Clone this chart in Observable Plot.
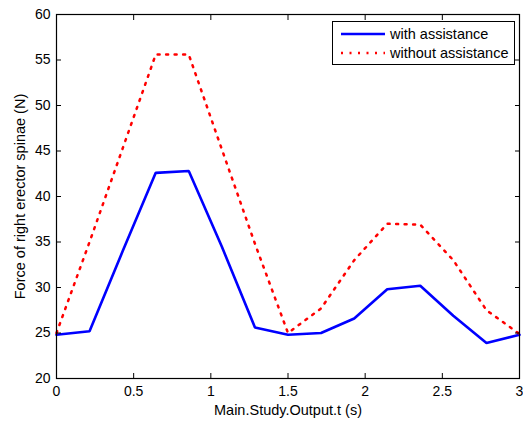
<!DOCTYPE html>
<html>
<head>
<meta charset="utf-8">
<script src="https://cdn.jsdelivr.net/npm/d3@7"></script>
<script src="https://cdn.jsdelivr.net/npm/@observablehq/plot@0.6"></script>
<style>
  body { margin: 0; background: #fff; }
  #wrap { position: relative; width: 523px; height: 421px; font-family: "Liberation Sans", Arial, sans-serif; }
  #wrap > svg { overflow: visible; }
  #legend { position: absolute; left: 332px; top: 21px; width: 181px; height: 42px; border: 1px solid #000; background: #fff; }
</style>
</head>
<body>
<div id="wrap"></div>
<script>
const time = [0, 0.214, 0.429, 0.643, 0.857, 1.071, 1.286, 1.5, 1.714, 1.929, 2.143, 2.357, 2.571, 2.786, 3.0];
const withAssistance = [24.8, 25.2, 34.0, 42.6, 42.8, 34.5, 25.6, 24.8, 25.0, 26.6, 29.8, 30.2, 26.9, 23.9, 24.8];
const withoutAssistance = [25.0, 35.0, 45.3, 55.6, 55.6, 45.2, 34.8, 25.0, 27.7, 33.0, 37.0, 36.9, 33.0, 27.5, 24.9];
const seriesNames = ["with assistance", "without assistance"];
const seriesColors = ["#0000ff", "#ff0000"];
const xTicks = [0, 0.5, 1, 1.5, 2, 2.5, 3];
const yTicks = [20, 25, 30, 35, 40, 45, 50, 55, 60];

const rows = [];
time.forEach((t, i) => {
  rows.push({t, v: withAssistance[i], s: seriesNames[0]});
  rows.push({t, v: withoutAssistance[i], s: seriesNames[1]});
});

const fmt = d => String(d);
const tickLen = 5;

const plot = Plot.plot({
  width: 523, height: 421,
  marginLeft: 56, marginRight: 4, marginTop: 14, marginBottom: 43,
  style: {fontFamily: "'Liberation Sans', Arial, sans-serif", fontSize: "14px", color: "#000", background: "#fff", overflow: "visible"},
  x: {domain: [0, 3], ticks: xTicks, tickFormat: fmt},
  y: {domain: [20, 60], ticks: yTicks, tickFormat: fmt},
  marks: [
    Plot.line(rows.filter(d => d.s === seriesNames[0]), {x: "t", y: "v", stroke: seriesColors[0], strokeWidth: 2.6, strokeLinejoin: "miter"}),
    Plot.line(rows.filter(d => d.s === seriesNames[1]), {x: "t", y: "v", stroke: seriesColors[1], strokeWidth: 2.5, strokeDasharray: "2,6.5"}),
    Plot.axisX(xTicks, {anchor: "bottom", tickSize: 0, tickPadding: 8, tickFormat: fmt, label: "Main.Study.Output.t (s)", labelAnchor: "center", labelOffset: 36, labelArrow: "none", fontSize: 14}),
    Plot.axisY(yTicks, {anchor: "left", tickSize: 0, tickPadding: 6, tickFormat: fmt, label: "Force of right erector spinae (N)", labelAnchor: "center", labelOffset: 42, labelArrow: "none", fontSize: 14}),
    Plot.axisX(xTicks, {anchor: "bottom", tickSize: tickLen, dy: -tickLen, text: null, label: null}),
    Plot.axisX(xTicks, {anchor: "top", tickSize: tickLen, dy: tickLen, text: null, label: null}),
    Plot.axisY(yTicks, {anchor: "left", tickSize: tickLen, dx: tickLen, text: null, label: null}),
    Plot.axisY(yTicks, {anchor: "right", tickSize: tickLen, dx: -tickLen, text: null, label: null}),
    Plot.frame({stroke: "#000", strokeWidth: 1.2})
  ]
});
plot.querySelectorAll("text").forEach(t => {
  const txt = t.textContent;
  if (txt.startsWith("Main") || txt.startsWith("Force")) t.setAttribute("font-size", "14.5px");
});
const wrap = document.getElementById("wrap");
wrap.appendChild(plot);

const legend = document.createElement("div");
legend.id = "legend";
const ns = "http://www.w3.org/2000/svg";
const lsvg = document.createElementNS(ns, "svg");
lsvg.setAttribute("width", 181); lsvg.setAttribute("height", 42);
seriesNames.forEach((name, i) => {
  const y = 12 + i * 19;
  const ln = document.createElementNS(ns, "line");
  ln.setAttribute("x1", 8); ln.setAttribute("x2", 52);
  ln.setAttribute("y1", y); ln.setAttribute("y2", y);
  ln.setAttribute("stroke", seriesColors[i]);
  ln.setAttribute("stroke-width", 2.6);
  if (i === 1) ln.setAttribute("stroke-dasharray", "2,6.5");
  lsvg.appendChild(ln);
  const tx = document.createElementNS(ns, "text");
  tx.setAttribute("x", 57); tx.setAttribute("y", y + 5);
  tx.setAttribute("font-size", "14.5px");
  tx.setAttribute("font-family", "'Liberation Sans', Arial, sans-serif");
  tx.textContent = name;
  lsvg.appendChild(tx);
});
legend.appendChild(lsvg);
wrap.appendChild(legend);
</script>
</body>
</html>
